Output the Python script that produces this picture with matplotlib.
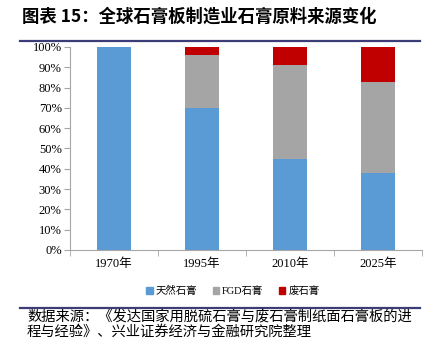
import numpy as np
import matplotlib.pyplot as plt
from matplotlib.lines import Line2D
from matplotlib.patches import Patch

plt.rcParams['font.family'] = ['Liberation Serif', 'Noto Sans CJK SC']

years = ['1970年', '1995年', '2010年', '2025年']
natural = [100, 70, 45, 38]
fgd = [0, 26, 46, 45]
waste = [0, 4, 9, 17]
series_names = ['天然石膏', 'FGD石膏', '废石膏']
colors = ['#5B9BD5', '#A5A5A5', '#C00000']

fig = plt.figure(figsize=(4.33, 3.53), dpi=100)
ax = fig.add_axes([70 / 433, 1 - 250 / 353, 352 / 433, 203 / 353])

x = np.arange(len(years))
nat = np.array(natural) / 100
fg = np.array(fgd) / 100
ws = np.array(waste) / 100
w = 0.39
ax.bar(x, nat, w, color=colors[0], label=series_names[0])
ax.bar(x, fg, w, bottom=nat, color=colors[1], label=series_names[1])
ax.bar(x, ws, w, bottom=nat + fg, color=colors[2], label=series_names[2])

ax.set_xlim(-0.5, len(years) - 0.5)
ax.set_ylim(0, 1)
ax.set_yticks(np.arange(0, 1.01, 0.1))
ax.set_yticklabels([f'{int(round(v * 100))}%' for v in np.arange(0, 1.01, 0.1)], fontsize=9)
ax.set_xticks(x)
ax.set_xticklabels(years, fontsize=9)
ax.set_xticks(np.arange(-0.5, len(years), 1), minor=True)
ax.tick_params(axis='x', which='major', length=0, pad=6)
ax.tick_params(axis='x', which='minor', length=4, color='#A6A6A6')
ax.tick_params(axis='y', length=4, color='#A6A6A6', pad=2)
for s in ['top', 'right']:
    ax.spines[s].set_visible(False)
for s in ['left', 'bottom']:
    ax.spines[s].set_color('#A6A6A6')
    ax.spines[s].set_linewidth(0.8)

handles = [Patch(color=c) for c in colors]
fig.legend(handles, series_names, loc='center', bbox_to_anchor=(233 / 433, 1 - 291 / 353),
           ncol=3, frameon=False, fontsize=7.5, handlelength=0.6, handleheight=0.6,
           handletextpad=0.3, columnspacing=1.5)

# title and rules
cjk = ['Noto Sans CJK SC', 'DejaVu Sans']
fig.text(22 / 433, 1 - 17 / 353, '图表 15：全球石膏板制造业石膏原料来源变化',
         fontsize=12.5, fontweight='bold', va='center', ha='left', family=cjk)
fig.add_artist(Line2D([20 / 433, 420 / 433], [1 - 41 / 353, 1 - 41 / 353],
                      color='#3C3C78', linewidth=1.6))
fig.add_artist(Line2D([20 / 433, 420 / 433], [1 - 308 / 353, 1 - 308 / 353],
                      color='#3C3C78', linewidth=1.6))
fig.text(27 / 433, 1 - 317 / 353, '数据来源：《发达国家用脱硫石膏与废石膏制纸面石膏板的进',
         fontsize=10.3, va='center', ha='left', family=cjk)
fig.text(27 / 433, 1 - 332 / 353, '程与经验》、兴业证券经济与金融研究院整理',
         fontsize=10.3, va='center', ha='left', family=cjk)

fig.savefig('out.png', dpi=100)
